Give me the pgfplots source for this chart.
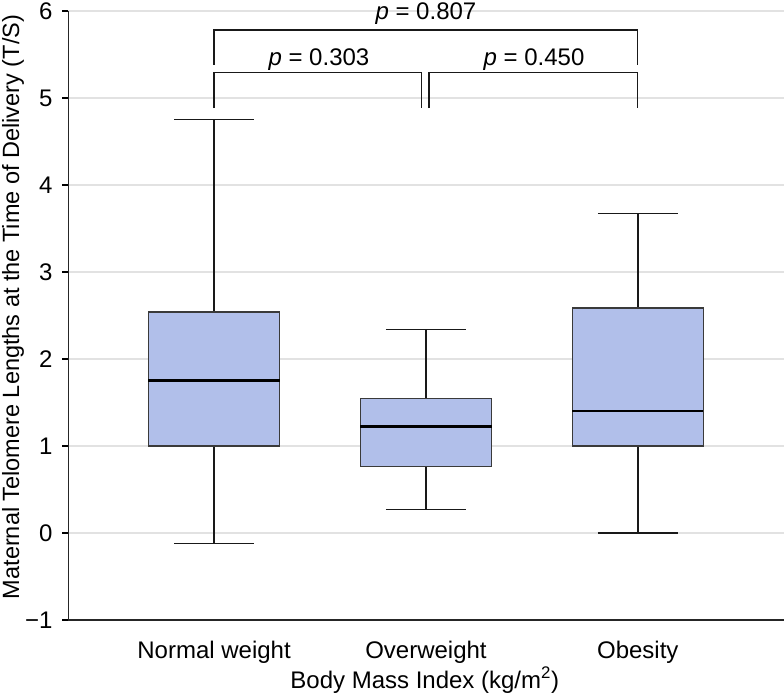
\documentclass[border=0pt]{standalone}
\usepackage{pgfplots}
\pgfplotsset{compat=1.18}
\usepgfplotslibrary{statistics}
\usepackage{fontspec}
\setmainfont{Liberation Sans}
\definecolor{boxblue}{HTML}{B1BFEA}
\definecolor{boxedge}{HTML}{3A3A3A}
\definecolor{gridgray}{HTML}{E2E2E2}
\begin{document}
\fontsize{24}{28}\selectfont
\begin{tikzpicture}
\begin{axis}[
  scale only axis,
  width=715.7pt, height=609pt,
  xmin=-0.688, xmax=2.69,
  ymin=-1, ymax=6,
  clip=false,
  axis x line*=bottom, axis y line*=left,
  axis line style={line width=1.3pt, draw=black!85},
  xtick={0,1,2},
  xticklabels={Normal weight,Overweight,Obesity},
  major x tick style={draw=none},
  ytick={-1,0,1,2,3,4,5,6},
  yticklabels={−1,0,1,2,3,4,5,6},
  tick align=outside,
  major tick length=6pt,
  major y tick style={line width=1.3pt, black},
  ymajorgrids,
  major grid style={gridgray, line width=1.2pt},
  tick label style={font=\fontsize{24}{28}\selectfont},
  xticklabel style={anchor=base, yshift=-32.7pt, inner sep=0pt},
  yticklabel style={anchor=east, inner sep=0pt, xshift=-9.6pt},
  every axis x label/.style={at={(axis description cs:0.498,-0.1117)}, anchor=base, inner sep=0pt, font=\fontsize{24}{28}\selectfont},
  every axis y label/.style={at={(axis description cs:-0.0615,0.514)}, rotate=90, anchor=south, inner sep=0pt, font=\fontsize{23.5}{28}\selectfont},
  xlabel={Body Mass Index (kg/m\textsuperscript{2})},
  ylabel={Maternal Telomere Lengths at the Time of Delivery (T/S)},
  boxplot/draw direction=y,
  boxplot/every box/.style={fill=boxblue, draw=boxedge, line width=1.2pt},
  boxplot/every median/.style={draw=black, line width=2.6pt},
  boxplot/every whisker/.style={draw=black!90, line width=1.5pt},
]
\addplot+[no markers, boxplot prepared={
    lower whisker=-0.118, lower quartile=1.0, median=1.755,
    upper quartile=2.54, upper whisker=4.755,
    draw position=0, box extend=0.62, whisker extend=0.378},
  draw=black] coordinates {};
\addplot+[no markers, boxplot prepared={
    lower whisker=0.272, lower quartile=0.762, median=1.226,
    upper quartile=1.548, upper whisker=2.337,
    draw position=1, box extend=0.62, whisker extend=0.378},
  draw=black] coordinates {};
\addplot+[no markers, boxplot prepared={
    lower whisker=0.0, lower quartile=1.0, median=1.402,
    upper quartile=2.586, upper whisker=3.67,
    draw position=2, box extend=0.62, whisker extend=0.378},
  draw=black] coordinates {};
% significance brackets
\addplot[black!90, line width=1.3pt, no markers] coordinates {(0,5.38) (0,5.78) (2,5.78) (2,5.38)};
\addplot[black!90, line width=1.3pt, no markers] coordinates {(0,4.885) (0,5.29) (0.98,5.29) (0.98,4.885)};
\addplot[black!90, line width=1.3pt, no markers] coordinates {(1.015,4.885) (1.015,5.29) (2,5.29) (2,4.885)};
\node[anchor=base, inner sep=0pt] at (axis cs:1.0,5.90) {\textit{p} = 0.807};
\node[anchor=base, inner sep=0pt] at (axis cs:0.495,5.37) {\textit{p} = 0.303};
\node[anchor=base, inner sep=0pt] at (axis cs:1.51,5.37) {\textit{p} = 0.450};
\end{axis}
\pgfresetboundingbox
\path (-68.3pt,-73pt) rectangle (715.7pt,620pt);
\end{tikzpicture}
\end{document}
